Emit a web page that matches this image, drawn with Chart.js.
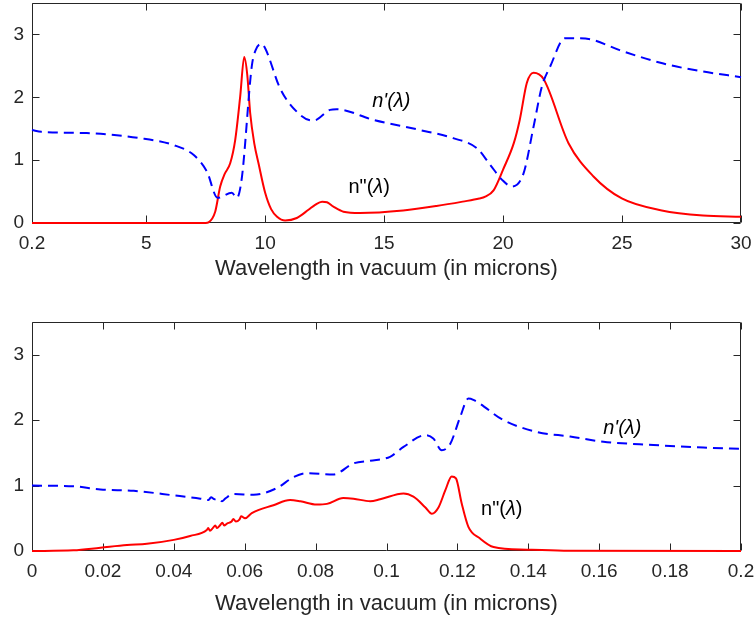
<!DOCTYPE html>
<html><head><meta charset="utf-8">
<script src="https://cdn.jsdelivr.net/npm/chart.js@4/dist/chart.umd.min.js"></script>
<style>
html,body{margin:0;padding:0;background:#fff;width:754px;height:626px;overflow:hidden}
.box{position:absolute;left:0;width:754px}
#b1{top:0;height:300px}
#b2{top:310px;height:316px}
</style></head><body>
<div class="box" id="b1"><canvas id="c1"></canvas></div>
<div class="box" id="b2"><canvas id="c2"></canvas></div>
<script>
// ---------- Top panel (0.2 - 30 microns) ----------
const topRealX = [0.2, 0.6, 2.5, 4.75, 6.15, 7.0, 7.55, 8.0, 8.6, 8.81, 9.02, 9.44, 9.6, 9.85, 10.0, 10.63, 11.33, 11.97, 12.15, 12.73, 13.0, 14.55, 16.5, 17.9, 18.9, 19.45, 19.95, 20.37, 20.86, 21.28, 21.63, 21.98, 22.6, 23.0, 23.7, 24.9, 26.7, 28.4, 30];
const topReal  = [1.48, 1.45, 1.43, 1.35, 1.24, 1.08, 0.82, 0.40, 0.48, 0.40, 0.72, 2.5, 2.75, 2.85, 2.78, 2.14, 1.77, 1.63, 1.64, 1.80, 1.81, 1.64, 1.48, 1.35, 1.19, 0.93, 0.69, 0.58, 0.79, 1.53, 2.17, 2.49, 2.94, 2.94, 2.92, 2.75, 2.54, 2.41, 2.32];
const topImagX = [0.2, 7.5, 7.62, 7.9, 8.11, 8.3, 8.53, 8.74, 8.95, 9.12, 9.25, 9.37, 9.55, 9.72, 10.0, 10.25, 10.5, 10.84, 11.33, 11.82, 12.1, 12.39, 12.6, 12.87, 13.29, 13.99, 15.8, 17.2, 18.3, 19.0, 19.25, 19.6, 20.0, 20.45, 20.7, 21.0, 21.28, 21.7, 22.75, 23.8, 24.99, 26.67, 28.4, 30];
const topImag  = [0, 0, 0.01, 0.18, 0.58, 0.78, 0.95, 1.32, 2.01, 2.64, 2.35, 1.75, 1.25, 0.95, 0.48, 0.22, 0.10, 0.04, 0.08, 0.21, 0.29, 0.34, 0.33, 0.26, 0.18, 0.16, 0.20, 0.27, 0.34, 0.39, 0.42, 0.52, 0.85, 1.27, 1.64, 2.23, 2.39, 2.29, 1.27, 0.74, 0.39, 0.20, 0.12, 0.10];
const topTicksX = [0.2, 5, 10, 15, 20, 25, 30];

// ---------- Bottom panel (0 - 0.2 microns) ----------
const botRealX = [0, 0.0117, 0.0193, 0.0287, 0.04, 0.0475, 0.0498, 0.0505, 0.0515, 0.0525, 0.0536, 0.0545, 0.0568, 0.0625, 0.069, 0.0738, 0.0775, 0.085, 0.0907, 0.0954, 0.101, 0.1048, 0.1109, 0.1132, 0.1156, 0.118, 0.1208, 0.1231, 0.1245, 0.133, 0.1424, 0.1518, 0.1612, 0.1753, 0.1894, 0.2];
const botReal  = [1.0, 0.99, 0.94, 0.92, 0.85, 0.80, 0.78, 0.82, 0.79, 0.80, 0.76, 0.80, 0.87, 0.86, 0.96, 1.13, 1.19, 1.17, 1.34, 1.38, 1.44, 1.59, 1.77, 1.72, 1.54, 1.64, 2.05, 2.33, 2.31, 2.0, 1.82, 1.75, 1.67, 1.62, 1.58, 1.56];
const botImagX = [0, 0.0117, 0.0193, 0.0268, 0.0324, 0.04, 0.0446, 0.0493, 0.0497, 0.0502, 0.051, 0.0517, 0.0522, 0.053, 0.0537, 0.0542, 0.055, 0.0563, 0.0568, 0.0575, 0.0585, 0.059, 0.0601, 0.062, 0.0681, 0.0728, 0.0757, 0.0803, 0.0832, 0.0878, 0.0907, 0.0954, 0.0982, 0.1048, 0.1076, 0.1109, 0.1128, 0.1147, 0.1166, 0.1184, 0.1196, 0.1212, 0.1231, 0.1264, 0.1302, 0.1396, 0.15, 0.2];
const botImag  = [0, 0.01, 0.05, 0.09, 0.11, 0.17, 0.23, 0.32, 0.35, 0.31, 0.35, 0.39, 0.35, 0.39, 0.43, 0.39, 0.42, 0.45, 0.49, 0.45, 0.48, 0.53, 0.50, 0.58, 0.70, 0.78, 0.76, 0.71, 0.72, 0.81, 0.80, 0.76, 0.79, 0.88, 0.83, 0.67, 0.57, 0.67, 0.93, 1.14, 1.11, 0.73, 0.37, 0.19, 0.06, 0.02, 0.005, 0];
const botTicksX = [0, 0.02, 0.04, 0.06, 0.08, 0.1, 0.12, 0.14, 0.16, 0.18, 0.2];

const ticksY = [0, 1, 2, 3];
const xTitle = 'Wavelength in vacuum (in microns)';

const FONT = '"Liberation Sans", Arial, Helvetica, sans-serif';
const AXC = '#262626';

function pts(xs, ys){ return xs.map((x,i)=>({x:x, y:ys[i]})); }

const matlabAxes = {
  id:'matlabAxes',
  beforeDatasetsDraw(chart){
    const ctx = chart.ctx, a = chart.chartArea;
    const xs = chart.scales.x, ys = chart.scales.y;
    const L = Math.round(a.left)+0.5, R = Math.round(a.right)-0.5, T = Math.round(a.top)+0.5, B = Math.round(a.bottom)-0.5;
    ctx.save();
    ctx.strokeStyle = AXC; ctx.lineWidth = 1;
    ctx.beginPath();
    ctx.rect(L, T, R-L, B-T);
    ctx.stroke();
    const tl = 7;
    ctx.beginPath();
    xs.ticks.forEach(t=>{
      const p = Math.round(xs.getPixelForValue(t.value))+0.5;
      ctx.moveTo(p, B); ctx.lineTo(p, B-tl);
      ctx.moveTo(p, T); ctx.lineTo(p, T+tl);
    });
    ys.ticks.forEach(t=>{
      const p = Math.round(ys.getPixelForValue(t.value))+0.5;
      ctx.moveTo(L, p); ctx.lineTo(L+tl, p);
      ctx.moveTo(R, p); ctx.lineTo(R-tl, p);
    });
    ctx.stroke();
    ctx.restore();
  }
};

const annot = {
  id:'annot',
  afterDatasetsDraw(chart, args, opts){
    const ctx = chart.ctx, xs = chart.scales.x, ys = chart.scales.y;
    (opts.items||[]).forEach(it=>{
      const px = xs.getPixelForValue(it.x), py = ys.getPixelForValue(it.y);
      ctx.save();
      ctx.textBaseline = 'middle'; ctx.textAlign = 'left'; ctx.fillStyle = '#000';
      let total = 0;
      const parts = it.parts.map(p=>{
        ctx.font = (p.i ? 'italic ' : '') + it.size + 'px ' + FONT;
        const w = ctx.measureText(p.t).width; total += w;
        return {t:p.t, i:p.i, w:w};
      });
      let cx = px - total/2;
      parts.forEach(p=>{
        ctx.font = (p.i ? 'italic ' : '') + it.size + 'px ' + FONT;
        ctx.fillText(p.t, cx, py); cx += p.w;
      });
      ctx.restore();
    });
  }
};

function makeChart(id, realX, real, imagX, imag, tickX, xmin, xmax, pad, xAxisH, labels){
  return new Chart(document.getElementById(id), {
    type:'line',
    data:{ datasets:[
      { data: pts(realX, real), borderColor:'#0000ff', borderWidth:2, borderDash:[10,6], pointRadius:0, fill:false, cubicInterpolationMode:'monotone', clip:4 },
      { data: pts(imagX, imag), borderColor:'#ff0000', borderWidth:2, pointRadius:0, fill:false, cubicInterpolationMode:'monotone', clip:4 }
    ]},
    options:{
      responsive:true, maintainAspectRatio:false, animation:false,
      layout:{ padding: pad },
      plugins:{ legend:{display:false}, tooltip:{enabled:false}, annot:{ items: labels } },
      scales:{
        x:{ type:'linear', min:xmin, max:xmax,
            grid:{display:false, drawTicks:false}, border:{display:false},
            afterBuildTicks: s=>{ s.ticks = tickX.map(v=>({value:v})); },
            afterFit: s=>{ s.height = xAxisH; s.paddingLeft = 0; s.paddingRight = 0; },
            ticks:{ autoSkip:false, maxRotation:0, padding:9, color:AXC, font:{family:FONT, size:19}, callback: v=>String(v) },
            title:{ display:true, text:xTitle, color:AXC, padding:0, font:{family:FONT, size:22} } },
        y:{ type:'linear', min:0, max:3.5,
            grid:{display:false, drawTicks:false}, border:{display:false},
            afterBuildTicks: s=>{ s.ticks = ticksY.map(v=>({value:v})); },
            afterFit: s=>{ s.width = 32; s.paddingTop = 0; s.paddingBottom = 0; },
            ticks:{ padding:8, color:AXC, font:{family:FONT, size:19}, callback: v=>String(v) } }
      }
    },
    plugins:[matlabAxes, annot]
  });
}

makeChart('c1', topRealX, topReal, topImagX, topImag, topTicksX, 0.2, 30,
  {top:3, right:13, bottom:18, left:0}, 59,
  [ {x:15.3, y:1.94, size:20, parts:[{t:"n'(λ)", i:true}]},
    {x:14.37, y:0.56, size:20, parts:[{t:'n"(', i:false},{t:'λ', i:true},{t:')', i:false}]} ]);

makeChart('c2', botRealX, botReal, botImagX, botImag, botTicksX, 0, 0.2,
  {top:12, right:13, bottom:9, left:0}, 66,
  [ {x:0.1665, y:1.88, size:20, parts:[{t:"n'(λ)", i:true}]},
    {x:0.1325, y:0.64, size:20, parts:[{t:'n"(', i:false},{t:'λ', i:true},{t:')', i:false}]} ]);
</script>
</body></html>
